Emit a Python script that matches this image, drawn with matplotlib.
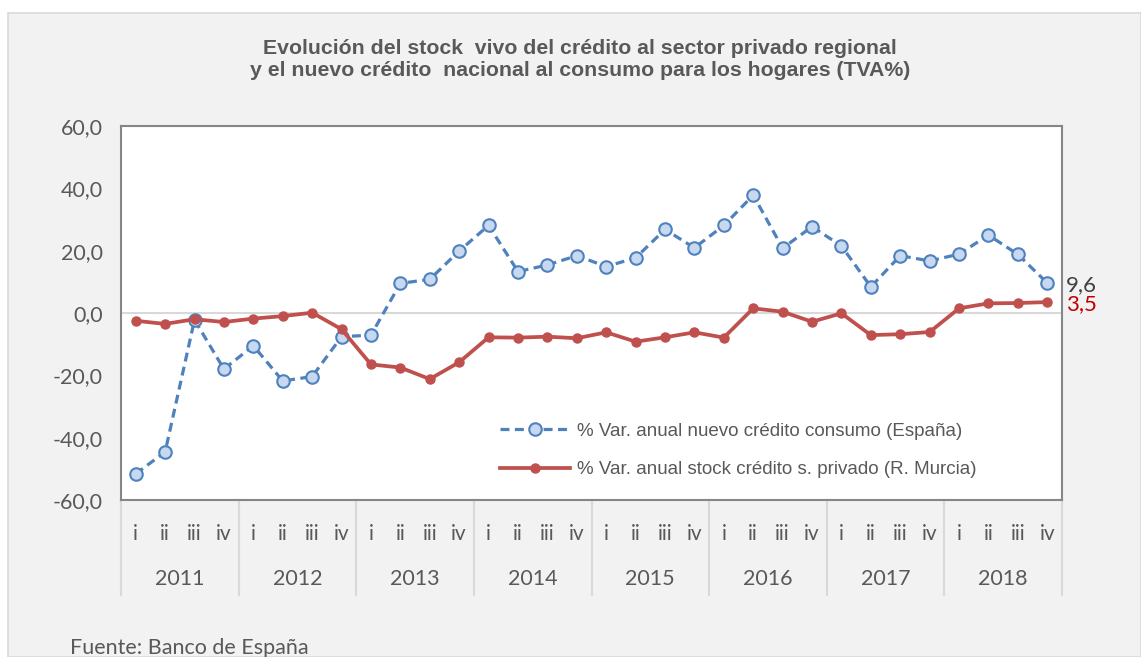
import matplotlib.pyplot as plt
from matplotlib.patches import Rectangle
from matplotlib.lines import Line2D

# data
years = ["2011", "2012", "2013", "2014", "2015", "2016", "2017", "2018"]
quarters = ["i", "ii", "iii", "iv"]

consumo_espana = [-51.6, -44.6, -2.2, -18.0,
                  -10.5, -21.8, -20.4, -7.6,
                  -7.1, 9.5, 10.8, 19.9,
                  28.1, 13.3, 15.4, 18.4,
                  14.9, 17.7, 26.8, 20.9,
                  28.1, 37.8, 20.8, 27.7,
                  21.5, 8.4, 18.4, 16.7,
                  18.9, 25.0, 18.8, 9.6]

stock_murcia = [-2.5, -3.5, -2.0, -2.9,
                -1.8, -1.0, 0.1, -5.2,
                -16.5, -17.5, -21.2, -15.8,
                -7.8, -7.9, -7.6, -8.1,
                -6.2, -9.2, -7.8, -6.2,
                -7.9, 1.5, 0.4, -2.8,
                -0.1, -7.1, -6.8, -6.1,
                1.5, 3.1, 3.2, 3.5]

yticks = [60, 40, 20, 0, -20, -40, -60]

label_font = "Lato"
txt_col = "#595959"

W, H = 1141, 657
fig = plt.figure(figsize=(W / 100, H / 100), dpi=100, facecolor="white")

# grey panel behind the chart
fig.patches.append(Rectangle((8 / W, 0), 1 - 8 / W, (H - 13) / H, transform=fig.transFigure,
                             facecolor="#f2f2f2", edgecolor="#d9d9d9", linewidth=1.2, zorder=-5))

ax = fig.add_axes([121 / W, (H - 500) / H, (1062 - 121) / W, (500 - 126) / H])
ax.set_facecolor("white")

x = list(range(len(consumo_espana)))

ax.axhline(0, color="#d9d9d9", linewidth=1.5, zorder=1)

ax.plot(x, consumo_espana, color="#4f81bd", linewidth=2.3, dashes=(2.8, 1.7),
        marker="o", markersize=9, markerfacecolor="#c6d9f1", markeredgecolor="#4f81bd",
        markeredgewidth=1.5, label="% Var. anual nuevo crédito consumo (España)", zorder=3)
ax.plot(x, stock_murcia, color="#c0504d", linewidth=2.7, marker="o", markersize=6.5,
        markerfacecolor="#c0504d", markeredgecolor="#c0504d",
        label="% Var. anual stock crédito s. privado (R. Murcia)", zorder=3)

ax.set_xlim(-0.5, len(x) - 0.5)
ax.set_ylim(-60, 60)
ax.set_yticks(yticks)
ax.set_yticklabels([f"{v:.1f}".replace(".", ",") for v in yticks],
                   fontsize=15.5, color=txt_col, family=label_font)
ax.tick_params(axis="y", length=0, pad=13)
ax.set_xticks([])
for s in ax.spines.values():
    s.set_color("#868686")
    s.set_linewidth(1.5)

# end labels
ax.text(len(x) - 0.5 + 0.12, consumo_espana[-1] - 0.5, "9,6", fontsize=16, color="#404040",
        family=label_font, va="center", ha="left")
ax.text(len(x) - 0.5 + 0.12, stock_murcia[-1] - 0.8, "3,5", fontsize=16, color="#c00000",
        family=label_font, va="center", ha="left")

# two-level category axis
tr = ax.get_xaxis_transform()
for i in x:
    ax.text(i, -0.092, quarters[i % 4], transform=tr, ha="center", va="center",
            fontsize=15, color=txt_col, family=label_font)
for k, yr in enumerate(years):
    ax.text(4 * k + 1.5, -0.212, yr, transform=tr, ha="center", va="center",
            fontsize=15.5, color=txt_col, family=label_font)
for k in range(len(years) + 1):
    ax.add_line(Line2D([4 * k - 0.5, 4 * k - 0.5], [0, -0.255], transform=tr,
                       color="#d9d9d9", linewidth=1.5, clip_on=False))

leg = ax.legend(loc="upper left", bbox_to_anchor=(0.403, 0.207), frameon=False,
                borderaxespad=0, borderpad=0, handlelength=3.7, handletextpad=0.4,
                labelspacing=1.15, prop={"family": "Liberation Sans", "size": 13.5})
for t in leg.get_texts():
    t.set_color(txt_col)

fig.text(580 / W, 1 - 60 / H, "Evolución del stock  vivo del crédito al sector privado regional\n"
         "y el nuevo crédito  nacional al consumo para los hogares (TVA%)",
         ha="center", va="center", fontsize=15.3, fontweight="bold", color=txt_col,
         family="Liberation Sans", linespacing=1.2)
fig.text(70 / W, 1 - 638 / H, "Fuente: Banco de España", ha="left", va="top",
         fontsize=15.5, color=txt_col, family=label_font)

fig.savefig("out.png", dpi=100, facecolor=fig.get_facecolor())
